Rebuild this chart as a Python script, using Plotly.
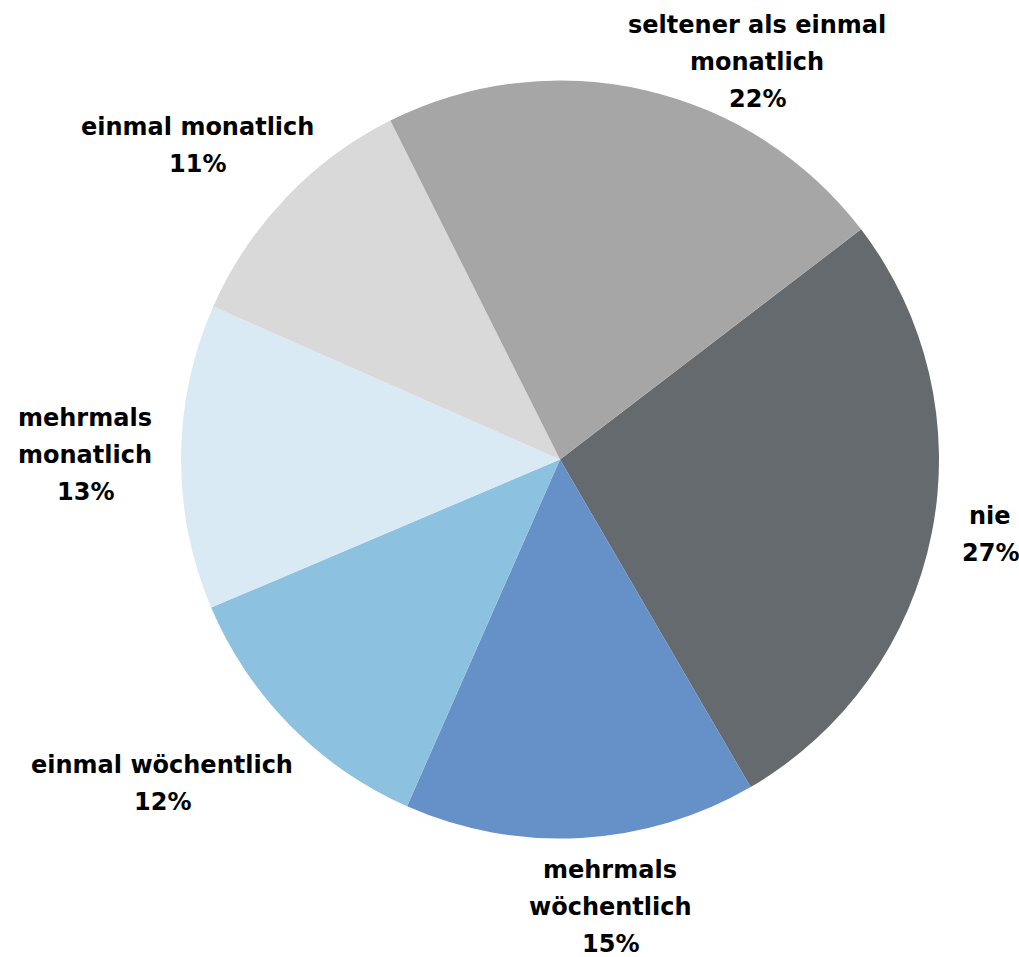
import plotly.graph_objects as go

# Survey answers: how often? (share of respondents, %)
categories = [
    "nie",
    "mehrmals wöchentlich",
    "einmal wöchentlich",
    "mehrmals monatlich",
    "einmal monatlich",
    "seltener als einmal monatlich",
]
shares = [27, 15, 12, 13, 11, 22]

# Label text split into lines as set outside the pie
label_lines = [
    ["nie"],
    ["mehrmals", "wöchentlich"],
    ["einmal wöchentlich"],
    ["mehrmals", "monatlich"],
    ["einmal monatlich"],
    ["seltener als einmal", "monatlich"],
]

colors = ["#656a6e", "#6690c8", "#8cc1df", "#d9eaf5", "#d9d9d9", "#a6a6a6"]

W, H = 1019, 957
# label block centre (px) and line pitch
label_pos = [(990, 516), (610, 870), (162, 765), (85, 418), (197, 127), (757, 25)]
line_pitch = 37

fig = go.Figure(
    go.Pie(
        labels=categories,
        values=shares,
        sort=False,
        direction="clockwise",
        rotation=52.6,
        marker=dict(colors=colors, line=dict(width=0)),
        textinfo="none",
        hoverinfo="label+percent",
        domain=dict(x=[(560 - 379) / W, (560 + 379) / W],
                    y=[1 - 839 / H, 1 - 80 / H]),
        showlegend=False,
    )
)

font = dict(family="DejaVu Sans", size=24, color="#000000", weight="bold")
annotations = []
for lines, share, (px, py) in zip(label_lines, shares, label_pos):
    for k, txt in enumerate(lines + [f"{share}%"]):
        annotations.append(dict(
            x=px / W, y=1 - (py + k * line_pitch) / H,
            xref="paper", yref="paper",
            text=txt, showarrow=False,
            xanchor="center", yanchor="middle",
            font=font,
        ))

fig.update_layout(
    width=W, height=H,
    margin=dict(l=0, r=0, t=0, b=0),
    paper_bgcolor="white", plot_bgcolor="white",
    annotations=annotations,
)

fig.write_html("out.html")
